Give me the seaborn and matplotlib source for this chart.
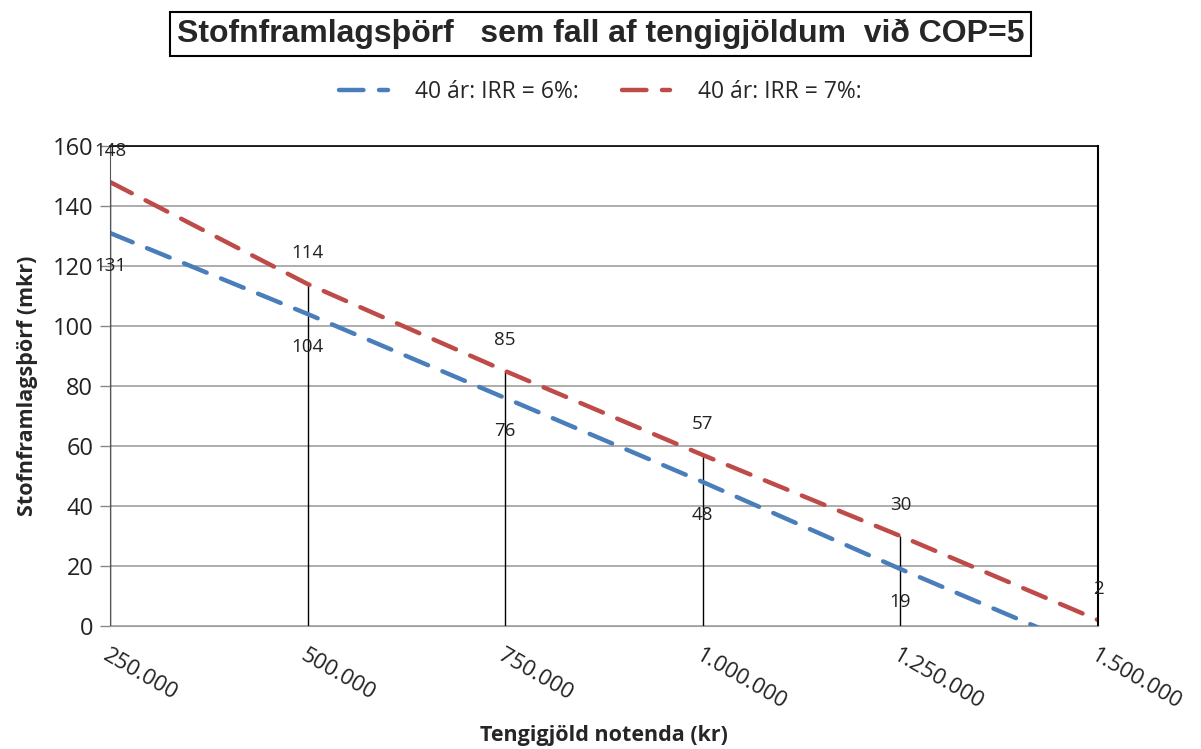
import numpy as np
import pandas as pd
import matplotlib
matplotlib.use("Agg")
import matplotlib.pyplot as plt
import seaborn as sns
from matplotlib.lines import Line2D
from matplotlib.ticker import FuncFormatter

# gögn lesin af myndinni
tengigjold = [250000, 500000, 750000, 1000000, 1250000, 1500000]
irr6 = [131, 104, 76, 48, 19, -9]
irr7 = [148, 114, 85, 57, 30, 2]
heiti = ["40 ár: IRR = 6%:", "40 ár: IRR = 7%:"]
litir = ["#4A7EBB", "#BE4B48"]

df = pd.DataFrame({"x": tengigjold * 2,
                   "y": irr6 + irr7,
                   "rod": [heiti[0]] * len(irr6) + [heiti[1]] * len(irr7)})

sns.set_style("white")
plt.rcParams['font.family'] = ['Open Sans', 'DejaVu Sans']

fig = plt.figure(figsize=(12.01, 7.49), dpi=100)
ax = fig.add_axes([110 / 1201, 1 - 626 / 749, 988 / 1201, 480 / 749])

for nafn, litur in zip(heiti, litir):
    sns.lineplot(data=df[df.rod == nafn], x="x", y="y", ax=ax, color=litur,
                 linewidth=3.2, dashes=False, legend=False)
for ln in ax.get_lines():
    ln.set_dashes((5.5, 3.5))
    ln.set_dash_capstyle("round")

# lóðréttar línur niður á ás
ax.vlines(tengigjold, 0, [max(a, b) for a, b in zip(irr6, irr7)],
          color="black", linewidth=1, zorder=1)

# gildismerki
for x, a, b in zip(tengigjold, irr6, irr7):
    if a >= 0:
        ax.annotate(str(a), (x, a), xytext=(0, -24), textcoords="offset points",
                    ha="center", va="center", fontsize=13.5, color="#222222")
    ax.annotate(str(b), (x, b), xytext=(0, 22), textcoords="offset points",
                ha="center", va="center", fontsize=13.5, color="#222222")

ax.set_xlim(250000, 1500000)
ax.set_ylim(0, 160)
ax.set_xticks(tengigjold)
ax.xaxis.set_major_formatter(FuncFormatter(lambda v, p: f"{int(v):,}".replace(",", ".")))
ax.set_yticks(range(0, 161, 20))
ax.yaxis.grid(True, color="#A0A0A0", linewidth=1.2)
ax.set_axisbelow(True)

for lbl in ax.get_xticklabels():
    lbl.set_rotation(-30)
    lbl.set_ha("left")
    lbl.set_va("top")
    lbl.set_rotation_mode("anchor")
ax.tick_params(axis="x", length=0, pad=14, labelsize=16, colors="#222222")
ax.tick_params(axis="y", length=7, width=1, color="#888888", pad=5,
               labelsize=17, labelcolor="#222222", left=True)

ax.spines["top"].set_color("black")
ax.spines["right"].set_color("black")
ax.spines["right"].set_linewidth(1.5)
ax.spines["top"].set_linewidth(1.2)
ax.spines["left"].set_color("#555555")
ax.spines["bottom"].set_color("#A0A0A0")

ax.set_xlabel("Tengigjöld notenda (kr)", fontsize=15.5, fontweight="bold", va="center")
ax.xaxis.set_label_coords(0.5, -(735 - 626) / 480)
ax.set_ylabel("Stofnframlagsþörf (mkr)", fontsize=15.5, fontweight="bold", va="center")
ax.yaxis.set_label_coords(-(110 - 28) / 988, 0.5)

fig.text(0.5, 1 - 34 / 749, "Stofnframlagsþörf   sem fall af tengigjöldum  við COP=5",
         ha="center", va="center", fontsize=23, fontweight="bold",
         family="Liberation Sans",
         bbox=dict(boxstyle="square,pad=0.2", facecolor="white", edgecolor="black", linewidth=1.5))

handles = [Line2D([], [], color=c, linewidth=3.2, dashes=(5.5, 3.5), dash_capstyle="round")
           for c in litir]
fig.legend(handles, heiti, loc="center", bbox_to_anchor=(0.5, 1 - 92 / 749), ncol=2,
           frameon=False, fontsize=16.5, handlelength=2.1, handletextpad=1.2,
           columnspacing=1.9)

fig.savefig("out.png", dpi=100)
